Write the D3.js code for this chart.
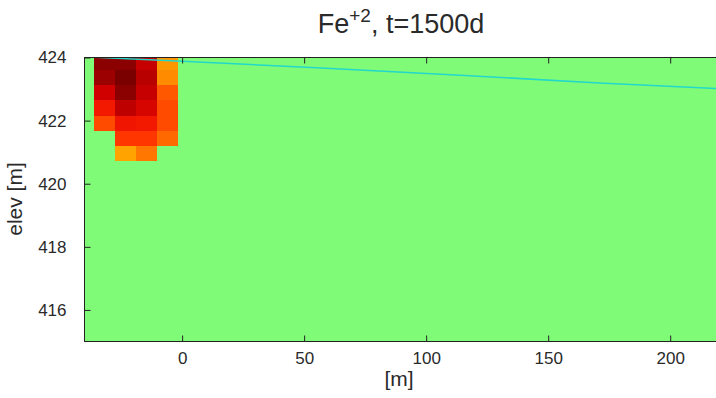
<!DOCTYPE html>
<html>
<head>
<meta charset="utf-8">
<script src="https://cdn.jsdelivr.net/npm/d3@7"></script>
<style>
  body { margin: 0; background: #fff; }
  svg text { font-family: "Liberation Sans", Arial, Helvetica, sans-serif; fill: #2a2a2a; }
</style>
</head>
<body>
<div id="chart"></div>
<script>
// cell edges of the model grid (m)
const xEdges = [-36, -27.4, -18.8, -10.2, -1.6];
const zEdges = [424.08, 423.6, 423.12, 422.64, 422.16, 421.68, 421.2, 420.72];

// relative Fe+2 concentration per column (top row first), null = background
const concCols = [
  [0.95, 0.90, 0.75, 0.60, 0.45, null, null],
  [0.95, 1.00, 0.95, 0.80, 0.62, 0.50, 0.20],
  [0.78, 0.82, 0.78, 0.72, 0.60, 0.50, 0.35],
  [0.25, 0.30, 0.42, 0.45, 0.45, 0.38, null]
];

// water table
const wtX = [-40, 0, 57, 114, 171, 220];
const wtZ = [424.02, 423.88, 423.67, 423.44, 423.19, 423.01];

const xTicks = [0, 50, 100, 150, 200];
const yTicks = [416, 418, 420, 422, 424];

const W = 716, H = 398;
const margin = {top: 57.5, left: 84.5};
const plotW = 634.5, plotH = 284;

const svg = d3.select('#chart').append('svg')
  .attr('width', W)
  .attr('height', H);

const x = d3.scaleLinear().domain([-40, 220]).range([0, plotW]);
const y = d3.scaleLinear().domain([415, 424]).range([plotH, 0]);

const color = d3.scaleLinear()
  .domain([0, 0.3, 0.55, 0.75, 1])
  .range(['#ffd000', '#ff8c00', '#ff2000', '#d00000', '#7a0000']);

const main = svg.append('g')
  .attr('transform', `translate(${margin.left},${margin.top})`);

svg.append('defs').append('clipPath').attr('id', 'plotClip')
  .append('rect').attr('width', plotW).attr('height', plotH);

main.append('rect')
  .attr('width', plotW)
  .attr('height', plotH)
  .attr('fill', '#80fb77');

const cells = [];
concCols.forEach((col, i) => {
  col.forEach((v, j) => {
    if (v !== null) cells.push({i, j, v});
  });
});

const plot = main.append('g').attr('clip-path', 'url(#plotClip)');

plot.selectAll('.cell')
  .data(cells)
  .enter()
  .append('rect')
  .attr('class', 'cell')
  .attr('x', d => x(xEdges[d.i]))
  .attr('y', d => y(zEdges[d.j]))
  .attr('width', d => x(xEdges[d.i + 1]) - x(xEdges[d.i]))
  .attr('height', d => y(zEdges[d.j + 1]) - y(zEdges[d.j]))
  .attr('fill', d => color(d.v))
  .attr('shape-rendering', 'crispEdges');

const line = d3.line()
  .x((d, i) => x(wtX[i]))
  .y(d => y(d));

plot.append('path')
  .datum(wtZ)
  .attr('d', line)
  .attr('fill', 'none')
  .attr('stroke', '#22d8cc')
  .attr('stroke-width', 1.5);

// axes, matlab style ticks inside
const xAxis = d3.axisBottom(x).tickValues(xTicks).tickSize(-6).tickPadding(10);
const yAxis = d3.axisLeft(y).tickValues(yTicks).tickSize(-6).tickPadding(18);

const gx = main.append('g')
  .attr('transform', `translate(0,${plotH})`)
  .call(xAxis);
const gy = main.append('g').call(yAxis);
const gt = main.append('g')
  .call(d3.axisTop(x).tickValues(xTicks).tickSize(-6).tickFormat(''));

[gx, gy, gt].forEach(g => {
  g.select('.domain').remove();
  g.selectAll('.tick line').attr('stroke', '#222');
  g.selectAll('.tick text').style('font-size', '17px').attr('fill', '#2a2a2a');
});

main.append('rect')
  .attr('width', plotW)
  .attr('height', plotH)
  .attr('fill', 'none')
  .attr('stroke', '#222')
  .attr('stroke-width', 1);

// labels
const title = svg.append('text')
  .attr('x', 401)
  .attr('y', 33)
  .attr('text-anchor', 'middle')
  .style('font-size', '27px');
title.append('tspan').text('Fe');
title.append('tspan').attr('dy', -11).style('font-size', '19px').text('+2');
title.append('tspan').attr('dy', 11).text(', t=1500d');

svg.append('text')
  .attr('x', 399)
  .attr('y', 386)
  .attr('text-anchor', 'middle')
  .style('font-size', '21px')
  .text('[m]');

svg.append('text')
  .attr('transform', `translate(22,199) rotate(-90)`)
  .attr('text-anchor', 'middle')
  .style('font-size', '21px')
  .text('elev [m]');
</script>
</body>
</html>
